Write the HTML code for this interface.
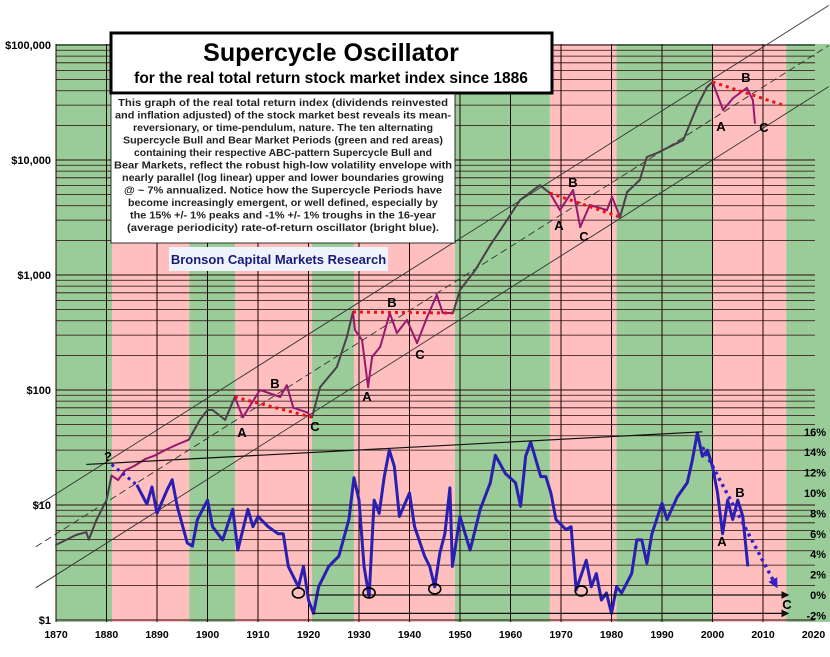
<!DOCTYPE html>
<html><head><meta charset="utf-8">
<style>
html,body{margin:0;padding:0;background:#fff;}
svg{display:block;font-family:"Liberation Sans",Arial,sans-serif;}
</style></head>
<body>
<svg id="chart" width="830" height="657" viewBox="0 0 830 657" xmlns="http://www.w3.org/2000/svg">
<g id="bands"></g>
<g id="grid"></g>
<g id="channels"></g>
<g id="series"></g>
<g id="axes"></g>
<g id="notes"></g>

<g>
<rect x="111" y="33" width="441" height="60" fill="#fff" stroke="#000" stroke-width="3"/>
<text x="331" y="61" text-anchor="middle" font-size="25" font-weight="bold">Supercycle Oscillator</text>
<text x="331" y="83" text-anchor="middle" font-size="15.5" font-weight="bold">for the real total return stock market index since 1886</text>
</g>
<g>
<rect x="111" y="94" width="344" height="149" fill="#fff" stroke="#000" stroke-width="0.8"/>
<g font-size="10.5" font-weight="bold" fill="#222" text-anchor="middle">
<text x="283" y="106" textLength="330" lengthAdjust="spacingAndGlyphs">This graph of the real total return index (dividends reinvested</text>
<text x="283" y="118.5" textLength="336" lengthAdjust="spacingAndGlyphs">and inflation adjusted) of the stock market best reveals its mean-</text>
<text x="283" y="131" textLength="300" lengthAdjust="spacingAndGlyphs">reversionary, or time-pendulum, nature.  The ten alternating</text>
<text x="283" y="143.5" textLength="320" lengthAdjust="spacingAndGlyphs">Supercycle Bull and Bear Market Periods (green and red areas)</text>
<text x="283" y="156" textLength="298" lengthAdjust="spacingAndGlyphs">containing their respective ABC-pattern Supercycle Bull and</text>
<text x="283" y="168.5" textLength="338" lengthAdjust="spacingAndGlyphs">Bear Markets, reflect the robust high-low volatility envelope with</text>
<text x="283" y="181" textLength="322" lengthAdjust="spacingAndGlyphs">nearly parallel (log linear) upper and lower boundaries growing</text>
<text x="283" y="193.5" textLength="318" lengthAdjust="spacingAndGlyphs">@  ~ 7% annualized.  Notice how  the Supercycle Periods have</text>
<text x="283" y="206" textLength="310" lengthAdjust="spacingAndGlyphs">become increasingly emergent, or well defined, especially by</text>
<text x="283" y="218.5" textLength="306" lengthAdjust="spacingAndGlyphs">the 15% +/- 1% peaks and -1% +/- 1% troughs in the 16-year</text>
<text x="283" y="231" textLength="312" lengthAdjust="spacingAndGlyphs">(average periodicity) rate-of-return oscillator (bright blue).</text>
</g>
</g>
<g>
<rect x="169" y="247" width="219" height="24" fill="#eef3fc"/>
<text x="278.5" y="264" text-anchor="middle" font-size="13" font-weight="bold" fill="#1a1a7a">Bronson Capital Markets Research</text>
</g>
</svg>
<script>
// ---- data ----
var bandStarts = [1870, 1881.1, 1896.4, 1905.5, 1920.7, 1929, 1949, 1967.8, 1981, 2000, 2014.6];
var bandEnds   = [1881.1, 1896.4, 1905.5, 1920.7, 1929, 1949, 1967.8, 1981, 2000, 2014.6, 2023.3];
var bandTypes  = ["bull","bear","bull","bear","bull","bear","bull","bear","bull","bear","bull"];
var xTicks = [1870,1880,1890,1900,1910,1920,1930,1940,1950,1960,1970,1980,1990,2000,2010,2020];
var leftTicks = [1,10,100,1000,10000,100000];
var leftTickLabels = ["$1","$10","$100","$1,000","$10,000","$100,000"];
var rightTicks = [-2,0,2,4,6,8,10,12,14,16];
var indexYears = [1870,1874,1876,1876.5,1878,1880,1881,1882.3,1883.7,1885.6,1887.6,1889.6,1891.6,1893.6,1896.3,1898.5,1900,1901,1903.5,1905.4,1907,1910.4,1914.4,1915.7,1917,1919.7,1920.7,1922.3,1925.6,1927.6,1928.8,1929.2,1930.6,1931.8,1932.6,1934.2,1936.1,1937.5,1939.5,1941.5,1943.5,1945.4,1946.6,1948.6,1950,1953,1956,1958,1961.9,1965.8,1967.8,1969.8,1972.4,1973.8,1975.7,1979.1,1980.1,1981.7,1983.1,1985.6,1987,1989,1994.2,1996.9,1998.9,2000,2002.1,2004.1,2006.8,2008,2008.4];
var indexValues = [4.5,5.5,5.8,5.0,7.4,11,18,16.5,20,22,25,27,30,33,37,55,67,67,55,87,58,100,87,110,70,64,58,106,158,290,477,333,272,106,194,237,467,313,406,256,431,670,467,467,741,1100,1820,2460,4490,6040,5160,3670,5480,2610,4060,3670,4770,3190,5270,6700,10620,11500,14900,28900,43100,47700,27200,34600,42300,33200,21000];
var oscYears = [1886,1888,1889,1890,1892,1893,1894,1896,1897,1898,1900,1901,1903,1905,1906,1908,1909,1910,1912,1914,1915,1916,1918,1919,1920,1921,1922,1924,1926,1928,1929,1930,1931,1932,1933,1934,1935,1936,1937,1938,1940,1941,1943,1944,1945,1946,1947,1948,1948.5,1950,1952,1954,1956,1957,1959,1961,1962,1963,1964,1966,1967,1968,1969,1971,1972,1973,1975,1976,1977,1978,1979,1980,1981,1982,1984,1985,1986,1987,1988,1990,1991,1993,1995,1996,1997,1998,1999,2000,2001,2002,2003,2004,2005,2006,2007];
var oscValues = [10.8,8.9,10.6,8.0,10.3,11.3,8.7,5.1,4.8,7.4,9.3,6.7,5.4,8.4,4.4,8.4,6.7,7.7,6.7,6.0,6.0,2.8,0.8,2.8,-0.5,-1.8,0.8,2.8,3.8,7.4,11.5,9.3,2.8,-0.2,9.3,8.0,11.6,14.2,12.6,7.7,10.0,6.7,3.8,2.8,0.8,4.1,6.0,10.5,2.8,7.7,4.4,8.4,11,13.7,11.9,11,8.7,13.6,15.0,11.6,11.6,10.0,7.4,6.4,6.7,0.5,3.4,0.8,2.1,-0.5,0.2,-1.8,0.8,0.2,2.1,5.4,5.4,3.1,6.0,9.0,7.4,9.6,11,13.2,15.9,13.6,14.2,12.6,10.0,6.0,9.3,7.4,9.3,7.7,2.8];
var channelBase = [12.5, 5.6, 2.46];   // 1870 values of upper, mid (dashed), lower channel
var channelGrowth = 1.066;
var troughYears = [1918, 1932, 1945, 1974];
var troughValues = [0.2, 0.2, 0.6, 0.4];

// ---- axis functions ----
function X(yr){ return 56 + (yr-1870)*5.05; }
function Y(v){ return 620 - 115*Math.log10(v); }
function YP(p){ return 595 - 10.2*p; }
var NS="http://www.w3.org/2000/svg";
function mk(tag, attrs, parent){ var e=document.createElementNS(NS,tag); for(var k in attrs) e.setAttribute(k,attrs[k]); parent.appendChild(e); return e; }
var bands=document.getElementById('bands'), grid=document.getElementById('grid'), ch=document.getElementById('channels'),
    ser=document.getElementById('series'), axes=document.getElementById('axes'), notes=document.getElementById('notes');

// bands
for (var i=0;i<bandStarts.length;i++){
  var r=mk('rect',{x:X(bandStarts[i]),y:44,width:X(bandEnds[i])-X(bandStarts[i]),height:578,fill:bandTypes[i]=="bull"?"#99cc99":"#ffbfbf"},bands);
  
  
}
// horizontal log grid
for (var d=0; d<5; d++){
  for (var m=1;m<=9;m++){
    var v=Math.pow(10,d)*m, y=Y(v);
    mk('line',{x1:56,x2:815,y1:y,y2:y,stroke:"#2a0a0a","stroke-width":m==1?1.1:0.8},grid);
  }
}
mk('line',{x1:56,x2:815,y1:Y(100000),y2:Y(100000),stroke:"#000","stroke-width":1.1},grid);
// vertical grid
xTicks.forEach(function(t){ if(t<2020) mk('line',{x1:X(t),x2:X(t),y1:44,y2:622,stroke:"#1a0505","stroke-width":1},grid); });

// channel lines
channelBase.forEach(function(b,i){
  var y0=1866, y1=2023;
  var l=mk('line',{x1:X(y0),y1:Y(b*Math.pow(channelGrowth,y0-1870)),x2:X(y1),y2:Y(b*Math.pow(channelGrowth,y1-1870)),stroke:"#333","stroke-width":0.9},ch);
  if(i==1) l.setAttribute('stroke-dasharray','7,4');
  
  
});

// index series
function isBear(yr){ for(var i=0;i<bandStarts.length;i++){ if(yr>=bandStarts[i]&&yr<bandEnds[i]) return bandTypes[i]=="bear"; } return false; }
for (var i=0;i<indexYears.length-1;i++){
  var mid=(indexYears[i]+indexYears[i+1])/2;
  var s=mk('line',{x1:X(indexYears[i]),y1:Y(indexValues[i]),x2:X(indexYears[i+1]),y2:Y(indexValues[i+1]),stroke:isBear(mid)?"#99186f":"#4a4048","stroke-width":2,"stroke-linecap":"round"},ser);
  
  
}
// red dotted bear lines
[[1905.4,87,1920.7,58],[1928.8,477,1948.6,467],[1967.8,5160,1981.7,3190],[2000,47700,2014,30000]].forEach(function(a){
  mk('line',{x1:X(a[0]),y1:Y(a[1]),x2:X(a[2]),y2:Y(a[3]),stroke:"#ee1111","stroke-width":3,"stroke-dasharray":"3,4"},notes);
});

// oscillator trend line and zero/-2 arrows
mk('line',{x1:X(1876),y1:YP(12.8),x2:X(1998),y2:YP(16.0),stroke:"#111","stroke-width":1.2},notes);
mk('defs',{},notes).innerHTML='<marker id="ah" markerWidth="8" markerHeight="8" refX="7" refY="4" orient="auto" markerUnits="userSpaceOnUse"><path d="M0,0 L8,4 L0,8 z" fill="#111"/></marker><marker id="ab" markerWidth="10" markerHeight="10" refX="6" refY="5" orient="auto" markerUnits="userSpaceOnUse"><path d="M0,0 L10,5 L0,10 z" fill="#3322cc"/></marker>';
mk('line',{x1:X(1920),y1:YP(0),x2:X(2015),y2:YP(0),stroke:"#111","stroke-width":1.2,"marker-end":"url(#ah)"},notes);
mk('line',{x1:X(1920.7),y1:YP(-1.8),x2:X(2015),y2:YP(-1.8),stroke:"#111","stroke-width":1.2,"marker-end":"url(#ah)"},notes);

// oscillator
var pts=oscYears.map(function(yr,i){return X(yr)+","+YP(oscValues[i]);}).join(" ");
var osc=mk('polyline',{points:pts,fill:"none",stroke:"#2a1fb0","stroke-width":3,"stroke-linejoin":"round"},ser);


mk('line',{x1:X(1881),y1:YP(12.8),x2:X(1886),y2:YP(10.8),stroke:"#2a1fd0","stroke-width":3,"stroke-dasharray":"3,4"},ser);
mk('line',{x1:X(1998),y1:YP(14.5),x2:X(2012.5),y2:YP(1.0),stroke:"#3322cc","stroke-width":3.5,"stroke-dasharray":"3,4","marker-end":"url(#ab)"},ser);

// trough circles
troughYears.forEach(function(t,i){
  var c=mk('ellipse',{cx:X(t),cy:YP(troughValues[i]),rx:6,ry:5,fill:"none",stroke:"#000","stroke-width":1.6},notes);
  
  
});

// letters
[["A",242,437],["B",275,388],["C",315,431],["A",367,401],["B",392,307],["C",420,359],["A",559,230],["B",573,187],["C",584,241],["A",721,131],["B",746,82],["C",764,132],["B",740,497],["A",722,546],["C",787,609],["?",108,461]].forEach(function(a){
  var t=mk('text',{x:a[1],y:a[2],"text-anchor":"middle","font-size":13,"font-weight":"bold",fill:"#000"},notes);
  t.textContent=a[0];
  
  
});

// axes labels
xTicks.forEach(function(t){
  var e=mk('text',{x:X(t),y:638,"text-anchor":"middle","font-size":10.5,"font-weight":"bold"},axes);
  e.textContent=t;
  
  
});
leftTicks.forEach(function(v,i){
  var e=mk('text',{x:51,y:Y(v)+4,"text-anchor":"end","font-size":11,"font-weight":"bold"},axes);
  e.textContent=leftTickLabels[i];
  
  
});
rightTicks.forEach(function(p){
  var e=mk('text',{x:826,y:YP(p)+4,"text-anchor":"end","font-size":11,"font-weight":"bold"},axes);
  e.textContent=p+"%";
  
  
});
</script>
</body></html>
